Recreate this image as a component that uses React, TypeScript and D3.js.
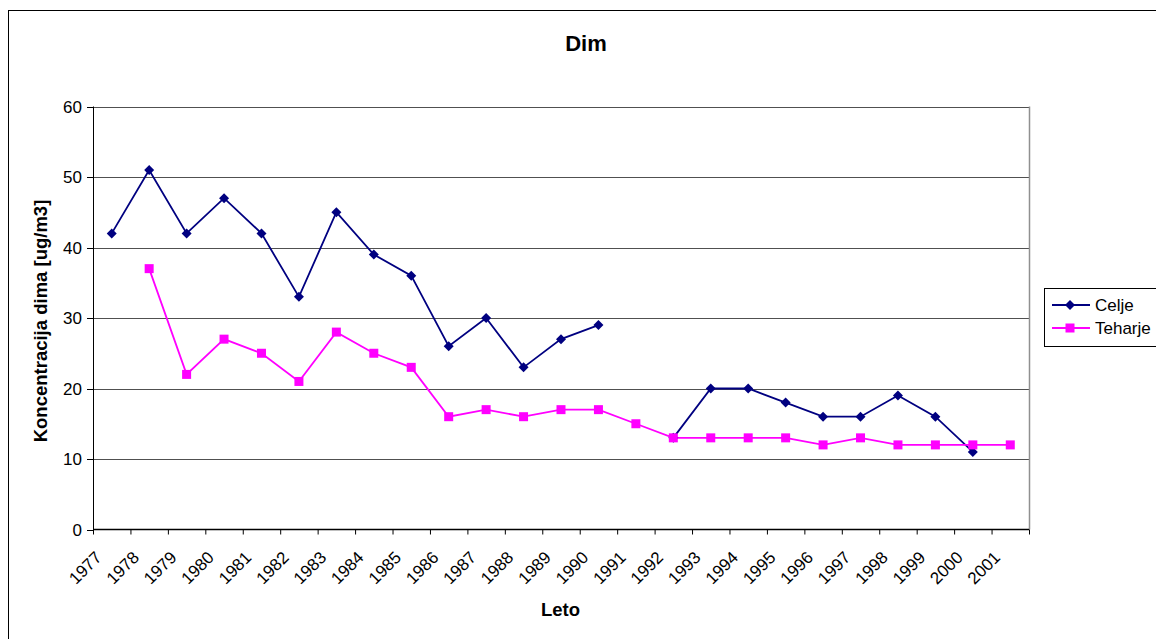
import React from "react";
import * as d3 from "d3";

const years: string[] = [
  "1977", "1978", "1979", "1980", "1981", "1982", "1983", "1984", "1985",
  "1986", "1987", "1988", "1989", "1990", "1991", "1992", "1993", "1994",
  "1995", "1996", "1997", "1998", "1999", "2000", "2001",
];

const celje: (number | null)[] = [
  42, 51, 42, 47, 42, 33, 45, 39, 36, 26, 30, 23, 27, 29, null, 13, 20, 20,
  18, 16, 16, 19, 16, 11, null,
];

const teharje: (number | null)[] = [
  null, 37, 22, 27, 25, 21, 28, 25, 23, 16, 17, 16, 17, 17, 15, 13, 13, 13,
  13, 12, 13, 12, 12, 12, 12,
];

const yTicks: number[] = [0, 10, 20, 30, 40, 50, 60];

const FONT = "'Liberation Sans', Arial, sans-serif";

export default function App() {
  const W = 1156;
  const H = 639;
  const left = 93;
  const right = 1029;
  const top = 106.5;
  const bottom = 529.5;

  const x = d3.scaleBand<string>().domain(years).range([left, right]).padding(0);
  const y = d3.scaleLinear().domain([0, 60]).range([bottom, top]);
  const cx = (i: number) => (x(years[i]) as number) + x.bandwidth() / 2;

  const line = d3
    .line<number | null>()
    .defined((d) => d !== null)
    .x((_, i) => cx(i))
    .y((d) => y(d as number));

  const diamond = (px: number, py: number) =>
    `M${px},${py - 5}L${px + 5},${py}L${px},${py + 5}L${px - 5},${py}Z`;

  const celjeColor = "#000080";
  const teharjeColor = "#FF00FF";

  return (
    <svg
      width={W}
      height={H}
      style={{ position: "absolute", left: 0, top: 0, background: "#fff" }}
      fontFamily={FONT}
    >
      <rect x={8.5} y={10.5} width={1170} height={650} fill="#fff" stroke="#000" strokeWidth={1} />

      <text x={586} y={51} textAnchor="middle" fontSize={22} fontWeight="bold">
        Dim
      </text>

      {/* gridlines */}
      {yTicks.filter((t) => t > 0).map((t) => (
        <line key={t} x1={left} x2={right} y1={Math.round(y(t)) + 0.5} y2={Math.round(y(t)) + 0.5} stroke="#505050" strokeWidth={1.2} />
      ))}
      <line x1={right + 0.5} x2={right + 0.5} y1={top} y2={bottom} stroke="#909090" strokeWidth={1.5} />

      {/* y axis */}
      <line x1={left + 0.5} x2={left + 0.5} y1={top} y2={bottom} stroke="#000" />
      {yTicks.map((t) => (
        <g key={t}>
          <line x1={left - 6} x2={left} y1={Math.round(y(t)) + 0.5} y2={Math.round(y(t)) + 0.5} stroke="#000" />
          <text x={left - 11} y={y(t) + 6} textAnchor="end" fontSize={17}>
            {t}
          </text>
        </g>
      ))}

      {/* x axis */}
      <line x1={left} x2={right} y1={bottom} y2={bottom} stroke="#000" strokeWidth={1.3} />
      {years.map((yr) => (
        <line key={"t" + yr} x1={(x(yr) as number) + 0.5} x2={(x(yr) as number) + 0.5} y1={bottom} y2={bottom + 5} stroke="#000" />
      ))}
      <line x1={right + 0.5} x2={right + 0.5} y1={bottom} y2={bottom + 5} stroke="#000" />
      {years.map((yr, i) => {
        const lx = cx(i) - 9;
        const ly = bottom + 29;
        return (
          <text key={"l" + yr} x={lx} y={ly} textAnchor="end" fontSize={17} transform={`rotate(-45 ${lx} ${ly})`}>
            {yr}
          </text>
        );
      })}

      {/* series */}
      <path d={line(celje) ?? ""} fill="none" stroke={celjeColor} strokeWidth={1.8} />
      <path d={line(teharje) ?? ""} fill="none" stroke={teharjeColor} strokeWidth={1.8} />
      {celje.map((v, i) =>
        v === null ? null : <path key={"c" + i} d={diamond(cx(i), y(v))} fill={celjeColor} />
      )}
      {teharje.map((v, i) =>
        v === null ? null : (
          <rect key={"h" + i} x={cx(i) - 4.5} y={y(v) - 4.5} width={9} height={9} fill={teharjeColor} />
        )
      )}

      {/* axis titles */}
      <text x={560.5} y={616} textAnchor="middle" fontSize={18.5} fontWeight="bold">
        Leto
      </text>
      <text
        x={0}
        y={0}
        textAnchor="middle"
        fontSize={18.5}
        fontWeight="bold"
        transform={`translate(47 321) rotate(-90)`}
      >
        Koncentracija dima [ug/m3]
      </text>

      {/* legend */}
      <rect x={1044.5} y={288.5} width={130} height={58} fill="#fff" stroke="#000" />
      <line x1={1052} x2={1090} y1={305} y2={305} stroke={celjeColor} strokeWidth={1.8} />
      <path d={diamond(1070, 305)} fill={celjeColor} />
      <text x={1095} y={311} fontSize={17}>
        Celje
      </text>
      <line x1={1052} x2={1090} y1={328} y2={328} stroke={teharjeColor} strokeWidth={1.8} />
      <rect x={1065.5} y={323.5} width={9} height={9} fill={teharjeColor} />
      <text x={1095} y={334} fontSize={17}>
        Teharje
      </text>
    </svg>
  );
}
